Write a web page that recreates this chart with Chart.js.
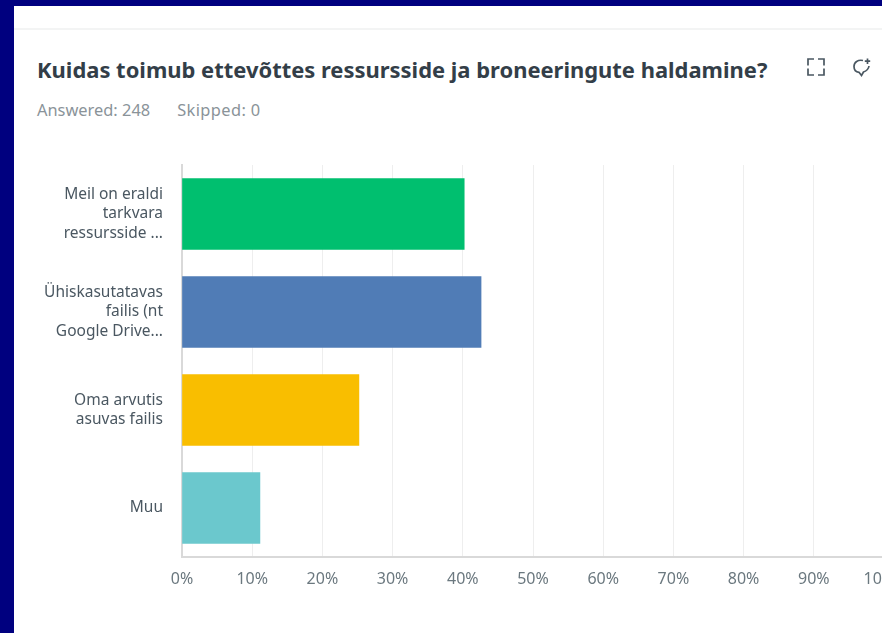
<!DOCTYPE html>
<html><head><meta charset="utf-8">
<script src="https://cdn.jsdelivr.net/npm/chart.js@4"></script>
<style>
html,body{margin:0;padding:0;width:882px;height:633px;overflow:hidden;background:#00007f}
#page{position:absolute;left:14px;top:6px;width:868px;height:627px;background:#fff;overflow:hidden}
#rule{position:absolute;left:0;top:22px;width:868px;height:2px;background:#f3f4f4}
#title{position:absolute;left:23px;top:48px;font:700 21.95px "Noto Sans",sans-serif;color:#333e48;white-space:nowrap;line-height:32px}
#sub{position:absolute;left:23px;top:94px;font:16.4px "Noto Sans",sans-serif;color:#8a9399;white-space:nowrap;line-height:20px}
#sub span{margin-left:27px;letter-spacing:.4px}
svg.ic{position:absolute}
#wrap{position:absolute;left:0;top:144px;width:910px;height:450px}
</style></head><body>
<div id="page">
<div id="rule"></div>
<div id="title">Kuidas toimub ettevõttes ressursside ja broneeringute haldamine?</div>
<div id="sub">Answered: 248<span>Skipped: 0</span></div>
<svg class="ic" style="left:793px;top:52px" width="18" height="18" viewBox="0 0 18 18" fill="none" stroke="#4a5761" stroke-width="1.7">
<path d="M1 7.5V1H7M11 1H17V7.5M17 10.5V17H11M7 17H1V10.5"/></svg>
<svg class="ic" style="left:838px;top:51px" width="22" height="22" viewBox="0 0 22 22" fill="none" stroke="#4a5761" stroke-width="1.7">
<path d="M11 3.5C6 2.5 2 5 2 9.5C2 13 4.5 15 7 15.3L9.5 18.5L11.5 15C14.5 14 16.5 12.5 17 9"/>
<path d="M15.5 1.5V7M12.8 4.2H18.2"/></svg>
<div id="wrap"><canvas id="c"></canvas></div>
</div>
<script>
const categories = [
  ["Meil on eraldi", "tarkvara", "ressursside ..."],
  ["Ühiskasutatavas", "failis (nt", "Google Drive..."],
  ["Oma arvutis", "asuvas failis"],
  "Muu"
];
const values = [40.2, 42.6, 25.2, 11.1];
const barColors = ["#00bf6f", "#507cb6", "#f9be00", "#6bc8cd"];
const xTicks = [0, 10, 20, 30, 40, 50, 60, 70, 80, 90, 100];

new Chart(document.getElementById("c"), {
  type: "bar",
  data: { labels: categories, datasets: [{ data: values, backgroundColor: barColors, barThickness: 71, borderWidth: 0 }] },
  options: {
    indexAxis: "y",
    responsive: true,
    maintainAspectRatio: false,
    animation: false,
    layout: { padding: { top: 15, right: 40, bottom: 0, left: 0 } },
    plugins: { legend: { display: false }, tooltip: { enabled: false } },
    scales: {
      x: {
        min: 0, max: 100,
        afterBuildTicks: a => { a.ticks = xTicks.map(v => ({ value: v })); },
        afterFit: a => { a.height = 43; a.paddingLeft = 0; a.paddingRight = 0; },
        grid: { color: "#eeeeee", lineWidth: 1, drawTicks: false },
        border: { color: "#d9d9d9", width: 2 },
        ticks: { padding: 13, maxRotation: 0, color: "#6b787f", font: { family: "'Noto Sans'", size: 16 }, callback: v => v + "%" }
      },
      y: {
        afterFit: a => { a.width = 168; a.paddingTop = 0; a.paddingBottom = 0; },
        grid: { display: false, drawTicks: false },
        border: { color: "#d9d9d9", width: 2 },
        ticks: { padding: 19, color: "#4a5761", font: { family: "'Noto Sans'", size: 15.5, lineHeight: 1.26 } }
      }
    }
  }
});
</script>
</body></html>
